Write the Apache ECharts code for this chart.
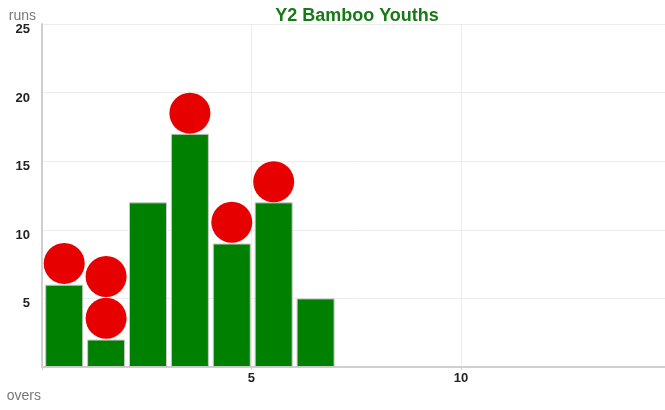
<!DOCTYPE html>
<html>
<head>
<meta charset="utf-8">
<script src="https://cdn.jsdelivr.net/npm/echarts@6/dist/echarts.min.js"></script>
<style>
html,body{margin:0;padding:0;background:#fff;}
#chart{width:665px;height:410px;}
</style>
</head>
<body>
<div id="chart"></div>
<script>
const titleText = 'Y2 Bamboo Youths';
const overs = [1, 2, 3, 4, 5, 6, 7];
const runs = [6, 2, 12, 17, 9, 12, 5];
const wicketOvers = [1, 2, 2, 4, 5, 6];
const wicketHeights = [7.55, 3.55, 6.6, 18.5, 10.55, 13.5];
const xTicks = [5, 10];
const yTicks = [5, 10, 15, 20, 25];

const chart = echarts.init(document.getElementById('chart'));
const barData = overs.map((o, i) => [o - 0.47, runs[i]]);
const wkData = wicketOvers.map((o, i) => [o - 0.47, wicketHeights[i]]);

chart.setOption({
  animation: false,
  title: {
    text: titleText,
    left: 352, top: 2, textAlign: 'center',
    textStyle: { color: '#177a17', fontSize: 18, fontWeight: 'bold', fontFamily: 'Liberation Sans, Arial, sans-serif' }
  },
  grid: { left: 42, right: 0, top: 24, bottom: 43 },
  xAxis: {
    type: 'value', min: 0, max: 14.87, interval: 5,
    name: 'overs', nameLocation: 'start',
    nameTextStyle: { color: '#777', fontSize: 14, align: 'right', verticalAlign: 'top', padding: [22, 0, 0, 0] },
    nameGap: 1,
    axisLine: { show: true, lineStyle: { color: '#cfcfcf', width: 2 } },
    axisTick: { show: true, length: 3, inside: false, lineStyle: { color: '#cfcfcf' } },
    splitLine: { show: true, lineStyle: { color: '#ececec' } },
    axisLabel: {
      color: '#222', fontSize: 13, fontWeight: 'bold', margin: 5, showMaxLabel: false,
      formatter: v => xTicks.includes(v) ? String(v) : ''
    }
  },
  yAxis: {
    type: 'value', min: 0, max: 25, interval: 5,
    name: 'runs', nameLocation: 'end',
    nameTextStyle: { color: '#777', fontSize: 14, align: 'right', padding: [0, 6, -16, 0] },
    nameGap: 0,
    axisLine: { show: true, lineStyle: { color: '#cfcfcf', width: 2 } },
    axisTick: { show: false },
    splitLine: { show: true, lineStyle: { color: '#ececec' } },
    axisLabel: {
      color: '#222', fontSize: 13, fontWeight: 'bold', margin: 12,
      verticalAlign: 'top', padding: [-1, 0, 0, 0],
      formatter: v => yTicks.includes(v) ? String(v) : ''
    }
  },
  series: [
    {
      type: 'bar', data: barData, barWidth: 38,
      itemStyle: { color: '#008000', borderColor: '#c8c8c8', borderWidth: 1 }
    },
    {
      type: 'scatter', data: wkData, symbol: 'circle', symbolSize: 41,
      itemStyle: { color: '#e60000', opacity: 1 }, z: 5
    }
  ]
});
</script>
</body>
</html>
